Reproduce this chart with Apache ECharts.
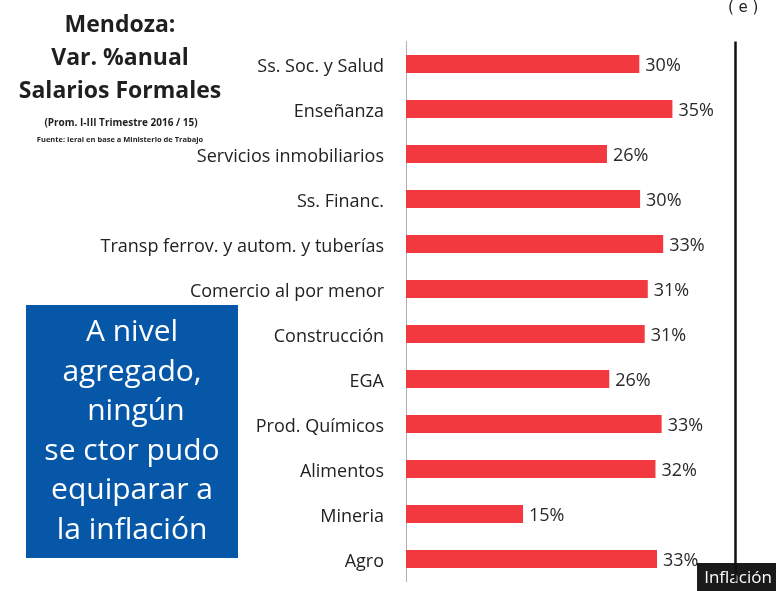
<!DOCTYPE html>
<html>
<head>
<meta charset="utf-8">
<script src="https://cdn.jsdelivr.net/npm/echarts@6/dist/echarts.min.js"></script>
<style>
  html, body { margin: 0; padding: 0; background: #fff; }
  #chart { width: 776px; height: 591px; }
</style>
</head>
<body>
<div id="chart"></div>
<script>
// Categories listed from top to bottom as shown in the chart
const categories = [
  'Ss. Soc. y Salud',
  'Enseñanza',
  'Servicios inmobiliarios',
  'Ss. Financ.',
  'Transp ferrov. y autom. y tuberías',
  'Comercio al por menor',
  'Construcción',
  'EGA',
  'Prod. Químicos',
  'Alimentos',
  'Mineria',
  'Agro'
];
// Annual % variation of formal salaries
const values = [30.3, 34.6, 26.1, 30.4, 33.4, 31.4, 31.0, 26.4, 33.2, 32.4, 15.2, 32.6];
// Estimated inflation (e)
const inflation = 42.8;

const titleLines = ['Mendoza:', 'Var. %anual', 'Salarios Formales'];
const subtitle = '(Prom. I-III Trimestre 2016 / 15)';
const source = 'Fuente: Ieral en base a Ministerio de Trabajo';
const boxLines = ['A nivel', 'agregado,', ' ningún', 'se ctor pudo', 'equiparar a', 'la inflación'];

const chart = echarts.init(document.getElementById('chart'), null, { renderer: 'canvas' });

const labelFont = '"Open Sans", "Noto Sans", sans-serif';

chart.setOption({
  animation: false,
  backgroundColor: '#ffffff',
  title: [
    {
      text: titleLines.join('\n'),
      left: 115, top: 4, textAlign: 'center',
      textStyle: { fontFamily: labelFont, fontWeight: 'bold', fontSize: 23, lineHeight: 33, color: '#1f1f1f' }
    },
    {
      text: subtitle,
      left: 116, top: 113, textAlign: 'center',
      textStyle: { fontFamily: labelFont, fontWeight: 'bold', fontSize: 10, color: '#1f1f1f' }
    },
    {
      text: source,
      left: 115, top: 131, textAlign: 'center',
      textStyle: { fontFamily: labelFont, fontWeight: 'bold', fontSize: 7.5, color: '#1f1f1f' }
    }
  ],
  grid: { left: 406, top: 41.5, width: 346.5, height: 540, containLabel: false },
  xAxis: {
    type: 'value', min: 0, max: 45,
    show: false
  },
  yAxis: {
    type: 'category',
    data: categories,
    inverse: true,
    axisLine: { show: true, lineStyle: { color: '#b0b0b0', width: 1 } },
    axisTick: { show: false },
    axisLabel: {
      margin: 22,
      formatter: v => '{c|' + v + '}',
      rich: { c: { fontFamily: labelFont, fontSize: 18, color: '#222', padding: [5, 0, 0, 0] } }
    }
  },
  series: [{
    type: 'bar',
    data: values,
    barWidth: 18,
    itemStyle: { color: '#f2393f' },
    label: {
      show: true, position: 'right', distance: 6, offset: [0, 2],
      fontFamily: labelFont, fontSize: 18, color: '#2a2a2a',
      formatter: p => Math.round(p.value) + '%'
    },
    markLine: {
      silent: true, symbol: 'none',
      lineStyle: { color: '#111', width: 2.5, type: 'solid' },
      label: { show: false },
      data: [{ xAxis: inflation }]
    }
  }],
  graphic: [
    {
      type: 'rect', left: 26, top: 305,
      shape: { width: 212, height: 253 },
      style: { fill: '#0657a8' }
    },
    {
      type: 'text', x: 132, y: 313,
      style: {
        text: boxLines.join('\n'), align: 'center', verticalAlign: 'top',
        fill: '#ffffff', fontFamily: labelFont, fontSize: 30, lineHeight: 39.5
      }
    },
    {
      type: 'text', left: 728, top: 1,
      style: { text: '( e )', fill: '#222', fontFamily: '"DejaVu Sans", sans-serif', fontSize: 15 }
    },
    {
      type: 'rect', left: 697, top: 563,
      shape: { width: 79, height: 28 },
      style: { fill: '#1a1a1a' }
    },
    {
      type: 'text', x: 738, y: 578,
      style: { text: 'Inflación', align: 'center', verticalAlign: 'middle', fill: '#ffffff', fontFamily: labelFont, fontSize: 17 }
    }
  ]
});
</script>
</body>
</html>
